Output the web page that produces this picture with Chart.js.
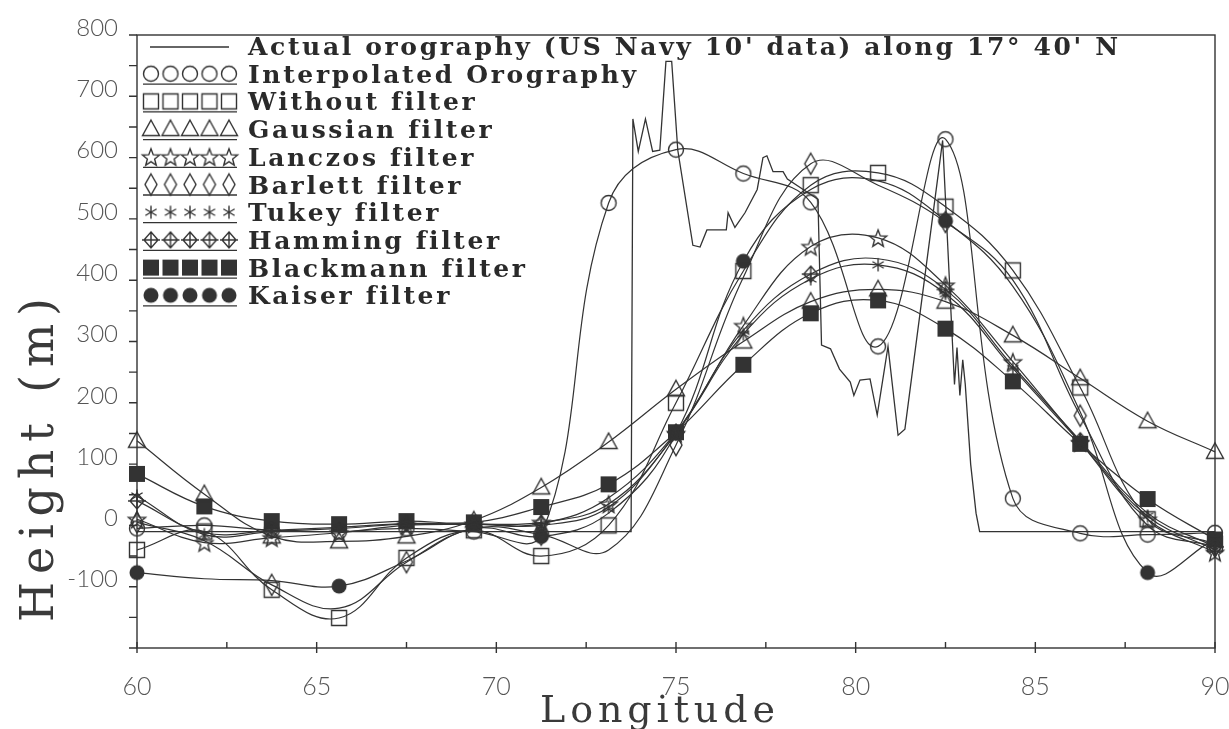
<!DOCTYPE html>
<html><head><meta charset="utf-8">
<script src="https://cdn.jsdelivr.net/npm/chart.js"></script>
<style>html,body{margin:0;padding:0;background:#fff;overflow:hidden}#wrap{width:1229px;height:729px}</style>
</head><body><div id="wrap"><canvas id="c" width="1229" height="729"></canvas></div>
<script>
// ---------- data ----------
const lonNodes = [60, 61.875, 63.75, 65.625, 67.5, 69.375, 71.25, 73.125, 75, 76.875, 78.75, 80.625, 82.5, 84.375, 86.25, 88.125, 90];
const interpolated = [-5, 0, -8, -10, -5, -10, -15, 526, 613, 574, 527, 292, 630, 44, -13, -15, -12];
const withoutFilter = [-40, -10, -105, -151, -53, -8, -50, 0, 200, 415, 555, 575, 520, 416, 225, 10, -30];
const gaussian = [138, 51, -18, -26, -18, 8, 62, 136, 222, 300, 365, 385, 365, 310, 240, 170, 120];
const lanczos = [10, -28, -20, -12, 0, 2, 5, 35, 150, 326, 455, 469, 392, 267, 135, 10, -44];
const barlett = [5, -25, -97, -135, -60, -5, -15, -40, 131, 405, 590, 555, 495, 400, 179, 0, -35];
const tukey = [48, -15, -10, -5, 2, 2, 0, 30, 150, 312, 402, 425, 378, 256, 135, 15, -40];
const hamming = [40, -12, -8, -3, 3, 2, 3, 45, 152, 318, 410, 435, 385, 260, 138, 20, -35];
const blackmann = [84, 31, 7, 2, 7, 5, 30, 67, 152, 262, 346, 367, 321, 235, 133, 43, -23];
const kaiser = [-77, -87, -90, -99, -58, -5, -18, 20, 150, 431, 548, 562, 497, 390, 185, -77, -22];

// nodes where each series shows a marker (1 = marker)
const markEvery1 = [1,1,1,1,1,1,1,1,1,1,1,1,1,1,1,1,1];
const markEvery2 = [1,0,1,0,1,0,1,0,1,0,1,0,1,0,1,0,1];
const markEvery3 = [1,0,0,1,0,0,1,0,0,1,0,0,1,0,0,1,0];

const actualLon = [60, 73.75, 73.8, 73.95, 74.15, 74.35, 74.55, 74.72, 74.88, 75.05, 75.47, 75.67, 75.86, 76.4, 76.45, 76.64, 76.92, 77.26, 77.42, 77.53, 77.7, 77.98, 78.1, 78.95, 79.05, 79.3, 79.55, 79.85, 79.95, 80.12, 80.4, 80.6, 80.9, 81.18, 81.37, 82.42, 82.75, 82.82, 82.9, 82.98, 83.05, 83.2, 83.35, 83.45, 90];
const actualHeight = [-10, -10, 663, 610, 663, 610, 612, 757, 757, 612, 457, 454, 482, 482, 510, 486, 510, 548, 600, 603, 577, 577, 565, 532, 294, 288, 255, 234, 212, 237, 239, 180, 292, 147, 157, 628, 230, 290, 212, 270, 230, 100, 20, -10, -10];

const legendLabels = [
  "Actual orography (US Navy 10' data) along 17\u00b0 40' N",
  "Interpolated Orography",
  "Without filter",
  "Gaussian filter",
  "Lanczos filter",
  "Barlett filter",
  "Tukey filter",
  "Hamming filter",
  "Blackmann filter",
  "Kaiser filter"
];
const xMajorTicks = [60, 65, 70, 75, 80, 85, 90];
const xTickMarks = [60, 62.5, 65, 67.5, 70, 72.5, 75, 77.5, 80, 82.5, 85, 87.5, 90];
const yMajorTicks = [-100, 0, 100, 200, 300, 400, 500, 600, 700, 800];
const yTickMarks = [-200, -150, -100, -50, 0, 50, 100, 150, 200, 250, 300, 350, 400, 450, 500, 550, 600, 650, 700, 750, 800];
const xTitle = "Longitude";
const yTitle = "Height (m)";

// ---------- drawing ----------
const INK = '#333';
function makeMarker(kind) {
  const S = 32, c = document.createElement('canvas'); c.width = S; c.height = S;
  const g = c.getContext('2d'); const m = S / 2;
  g.strokeStyle = INK; g.fillStyle = INK; g.lineWidth = 1.4; g.lineJoin = 'miter';
  g.beginPath();
  switch (kind) {
    case 'circle': g.arc(m, m, 7.5, 0, Math.PI * 2); g.stroke(); break;
    case 'square': g.rect(m - 7.5, m - 7.5, 15, 15); g.stroke(); break;
    case 'triangle': g.moveTo(m, m - 9); g.lineTo(m + 8.5, m + 6.5); g.lineTo(m - 8.5, m + 6.5); g.closePath(); g.stroke(); break;
    case 'star5':
      for (let i = 0; i < 10; i++) { const r = i % 2 ? 3.8 : 9; const a = -Math.PI / 2 + i * Math.PI / 5; g.lineTo(m + r * Math.cos(a), m + 1 + r * Math.sin(a)); }
      g.closePath(); g.stroke(); break;
    case 'diamond': g.moveTo(m, m - 10.5); g.lineTo(m + 6, m); g.lineTo(m, m + 10.5); g.lineTo(m - 6, m); g.closePath(); g.stroke(); break;
    case 'asterisk':
      for (const d of [90, 30, 150]) { const r = d * Math.PI / 180; g.moveTo(m - 6.5 * Math.cos(r), m - 6.5 * Math.sin(r)); g.lineTo(m + 6.5 * Math.cos(r), m + 6.5 * Math.sin(r)); }
      g.stroke(); break;
    case 'hamming':
      g.moveTo(m, m - 8); g.lineTo(m + 7, m); g.lineTo(m, m + 8); g.lineTo(m - 7, m); g.closePath();
      g.moveTo(m - 9, m); g.lineTo(m + 9, m); g.moveTo(m, m - 8); g.lineTo(m, m + 8); g.stroke(); break;
    case 'fsquare': g.fillRect(m - 8, m - 8, 16, 16); break;
    case 'fcircle': g.arc(m, m, 7.5, 0, Math.PI * 2); g.fill(); break;
  }
  return c;
}

const seriesDefs = [
  {label: legendLabels[1], values: interpolated, marker: 'circle', show: markEvery1},
  {label: legendLabels[2], values: withoutFilter, marker: 'square', show: markEvery1},
  {label: legendLabels[3], values: gaussian, marker: 'triangle', show: markEvery1},
  {label: legendLabels[4], values: lanczos, marker: 'star5', show: markEvery1},
  {label: legendLabels[5], values: barlett, marker: 'diamond', show: markEvery2},
  {label: legendLabels[6], values: tukey, marker: 'asterisk', show: markEvery1},
  {label: legendLabels[7], values: hamming, marker: 'hamming', show: markEvery2},
  {label: legendLabels[8], values: blackmann, marker: 'fsquare', show: markEvery1},
  {label: legendLabels[9], values: kaiser, marker: 'fcircle', show: markEvery3}
];
seriesDefs.forEach(s => s.img = makeMarker(s.marker));

const datasets = [{
  label: legendLabels[0],
  data: actualLon.map((x, i) => ({x, y: actualHeight[i]})),
  borderColor: INK, borderWidth: 1.3, pointRadius: 0, tension: 0, clip: false
}].concat(seriesDefs.map(s => ({
  label: s.label,
  data: lonNodes.map((x, i) => ({x, y: s.values[i]})),
  borderColor: INK, borderWidth: 1.2, tension: 0.4,
  pointStyle: s.img, pointRadius: s.show.map(f => f ? 7 : 0), pointHoverRadius: 0, clip: false
})));

function spacedText(ctx, text, x, y, width) {
  ctx.letterSpacing = '0px';
  const w0 = ctx.measureText(text).width;
  const sp = (width - w0) / (text.length - 1);
  ctx.letterSpacing = sp + 'px';
  ctx.textAlign = 'left';
  ctx.fillText(text, x, y);
  ctx.letterSpacing = '0px';
}

const decor = {
  id: 'decor',
  beforeDatasetsDraw(chart) {
    const {ctx, chartArea: a, scales: {x, y}} = chart;
    ctx.save();
    ctx.strokeStyle = INK; ctx.lineWidth = 1.4;
    ctx.strokeRect(a.left, a.top, a.right - a.left, a.bottom - a.top);
    ctx.beginPath();
    for (const v of yTickMarks) { const py = y.getPixelForValue(v); ctx.moveTo(a.left - 8, py); ctx.lineTo(a.left, py); }
    for (const v of xTickMarks) { const px = x.getPixelForValue(v); ctx.moveTo(px, a.bottom - 6); ctx.lineTo(px, a.bottom + (xMajorTicks.includes(v) ? 5 : 0)); }
    ctx.stroke();
    // axis titles
    ctx.fillStyle = '#3a3a3a';
    ctx.textBaseline = 'alphabetic';
    ctx.font = '38px "DejaVu Serif"';
    spacedText(ctx, xTitle, 540, 722, 235);
    ctx.translate(53, 460); ctx.rotate(-Math.PI / 2);
    ctx.font = '46px "DejaVu Serif"';
    spacedText(ctx, yTitle, -162, 0, 324);
    ctx.restore();
  },
  afterDatasetsDraw(chart) {
    const ctx = chart.ctx;
    ctx.save();
    ctx.strokeStyle = INK; ctx.lineWidth = 1.3;
    const row0 = 47, step = 27.7;
    ctx.beginPath(); ctx.moveTo(150, row0); ctx.lineTo(229, row0); ctx.stroke();
    seriesDefs.forEach((s, i) => {
      const yy = row0 + (i + 1) * step;
      for (let k = 0; k < 5; k++) {
        const cx = 151 + k * 19.5;
        ctx.drawImage(s.img, cx - s.img.width / 2, yy - 1 - s.img.height / 2);
      }
      ctx.beginPath(); ctx.moveTo(143, yy + 9.5); ctx.lineTo(237, yy + 9.5); ctx.stroke();
    });
    ctx.font = 'bold 25px "DejaVu Serif"';
    ctx.fillStyle = '#2a2a2a';
    ctx.textBaseline = 'alphabetic';
    ctx.letterSpacing = '0px';
    const w0 = ctx.measureText(legendLabels[0]).width;
    const sp = Math.max(0, (870 - w0) / (legendLabels[0].length - 1));
    ctx.letterSpacing = sp + 'px';
    legendLabels.forEach((t, i) => {
      ctx.fillText(t, 248, row0 + i * step + 8);
    });
    ctx.restore();
  }
};

new Chart(document.getElementById('c'), {
  type: 'line',
  data: {datasets},
  plugins: [decor],
  options: {
    responsive: false, animation: false, devicePixelRatio: 1,
    layout: {padding: {top: 35, right: 14, left: 0, bottom: 0}},
    plugins: {legend: {display: false}, tooltip: {enabled: false}},
    scales: {
      x: {
        type: 'linear', min: 60, max: 90,
        afterBuildTicks: s => { s.ticks = xMajorTicks.map(v => ({value: v})); },
        afterFit: s => { s.height = 81; s.paddingLeft = 0; s.paddingRight = 0; },
        grid: {display: false, drawTicks: false}, border: {display: false},
        ticks: {padding: 24, color: '#555', maxRotation: 0, autoSkip: false,
          font: {family: 'Lato', size: 25, weight: '300'}, callback: v => String(v)}
      },
      y: {
        type: 'linear', min: -200, max: 800,
        afterBuildTicks: s => { s.ticks = yMajorTicks.map(v => ({value: v})); },
        afterFit: s => { s.width = 137; s.paddingTop = 0; s.paddingBottom = 0; },
        grid: {display: false, drawTicks: false}, border: {display: false},
        ticks: {padding: 19, labelOffset: -7, color: '#555', autoSkip: false,
          font: {family: 'Lato', size: 24, weight: '300'}, callback: v => String(v)}
      }
    }
  }
});
</script></body></html>
